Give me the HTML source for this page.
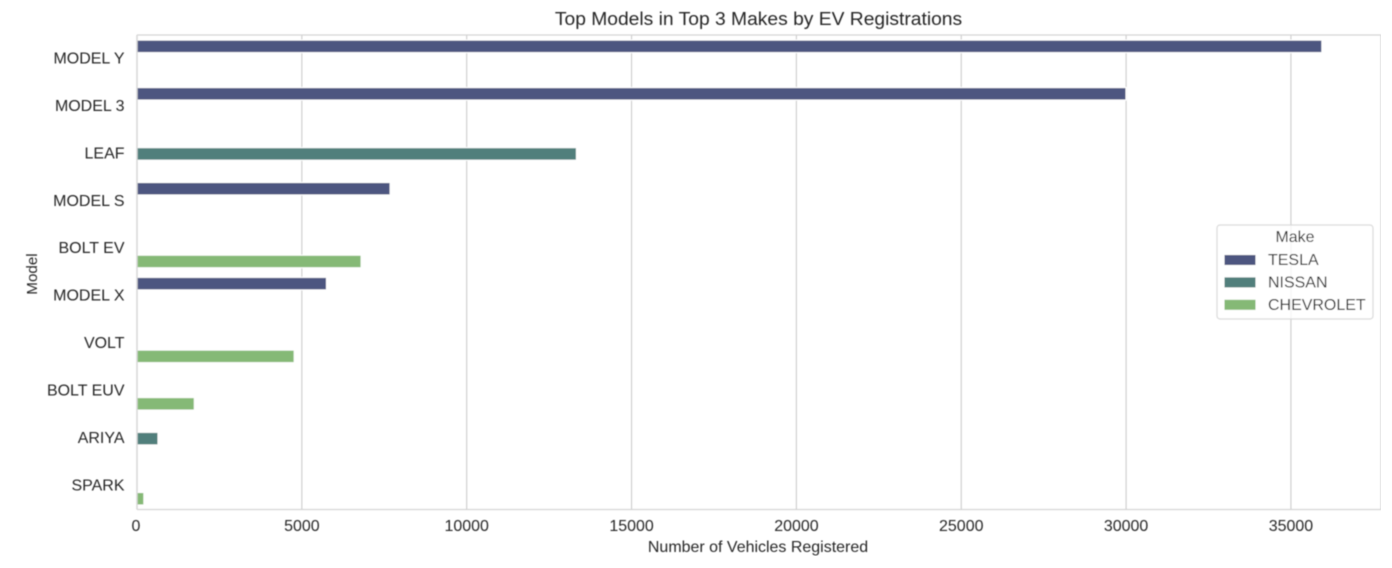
<!DOCTYPE html>
<html>
<head>
<meta charset="utf-8">
<title>Top Models in Top 3 Makes by EV Registrations</title>
<style>
html,body{margin:0;padding:0;background:#fff;}
svg{display:block;}
text{font-family:"Liberation Sans",Arial,sans-serif;fill:#262626;}
</style>
</head>
<body>
<svg id="chart" xmlns="http://www.w3.org/2000/svg" width="1392" height="568" viewBox="0 0 1392 568">
<defs><filter id="soft" x="0" y="0" width="100%" height="100%"><feGaussianBlur stdDeviation="0.45"/></filter></defs>
<g id="root" filter="url(#soft)"></g>
</svg>
<script>
const models = ["MODEL Y","MODEL 3","LEAF","MODEL S","BOLT EV","MODEL X","VOLT","BOLT EUV","ARIYA","SPARK"];
const makes = ["TESLA","NISSAN","CHEVROLET"];
const modelMakes = ["TESLA","TESLA","NISSAN","TESLA","CHEVROLET","TESLA","CHEVROLET","CHEVROLET","NISSAN","CHEVROLET"];
const registrations = [35940,30000,13330,7680,6800,5750,4770,1740,640,210];
const xTicks = [0,5000,10000,15000,20000,25000,30000,35000];
const makeColors = ["#4e5780","#517f7b","#85b976"];

const L=137,R=1381,T=35,B=509.5;
const PX_PER_UNIT=0.03297;
const STRETCH=1.025;
const FONT=15.6;
const NS="http://www.w3.org/2000/svg";
const root=document.getElementById('root');
function x(v){return L+v*PX_PER_UNIT;}
function band(){return (B-T)/models.length;}
function y(i){return T+0.3+band()*(i+0.5);}
function hueOffset(k){return (k-(makes.length-1)/2)*band()*0.8/makes.length;}
function mk(tag,attrs,txt){
  const e=document.createElementNS(NS,tag);
  for(const k in attrs)e.setAttribute(k,attrs[k]);
  if(txt!==undefined)e.textContent=txt;
  root.appendChild(e);
  return e;
}
function hText(px,py,anchor,size,str){
  return mk('text',{transform:'translate('+px+' '+py+') scale('+STRETCH+' 1)','text-anchor':anchor,'font-size':size},str);
}
function label(e,name){
  
  
}
label(mk('rect',{x:L,y:T,width:R-L,height:B-T,fill:'#fff'}),'plot-area');
xTicks.forEach(t=>{
  const g=mk('line',{x1:x(t),x2:x(t),y1:T,y2:B,stroke:'#c9c9c9','stroke-width':1.1});
  label(g,'x-gridline-'+t);
  const a=hText(x(t)-(t===0?1:0),531,'middle',FONT,String(t));
  label(a,'x-tick-label-'+t);
});
models.forEach((m,i)=>{
  const k=makes.indexOf(modelMakes[i]);
  const h=band()*0.8/makes.length;
  const cy=y(i)+hueOffset(k);
  const b=mk('rect',{x:x(0),y:cy-h/2,width:x(registrations[i])-x(0),height:h,fill:makeColors[k],stroke:'#fff','stroke-width':1.2});
  label(b,'bar-'+m.toLowerCase().replace(/ /g,'-'));
  const t=hText(124.5,y(i)+4.4,'end',FONT,m);
  label(t,'y-tick-label-'+m.toLowerCase().replace(/ /g,'-'));
});
[['spine-left',L,T,L,B],['spine-right',R,T,R,B],['spine-top',L,T,R,T],['spine-bottom',L,B,R,B]].forEach(s=>{
  const e=mk('line',{x1:s[1],y1:s[2],x2:s[3],y2:s[4],stroke:'#d4d4d4','stroke-width':1.3});
  label(e,s[0]);
});
label(hText(758.5,25,'middle',18.8,"Top Models in Top 3 Makes by EV Registrations"),'chart-title');
label(hText(758,552,'middle',FONT,"Number of Vehicles Registered"),'x-axis-title');
label(mk('text',{x:37,y:274,'text-anchor':'middle','font-size':15.2,transform:'rotate(-90 37 274)'},"Model"),'y-axis-title');
label(mk('rect',{x:1217,y:225,width:156,height:94,rx:3,fill:'#fff','fill-opacity':0.8,stroke:'#d9d9d9','stroke-width':1.2}),'legend-box');
label(hText(1295,242,'middle',FONT,"Make"),'legend-title');
makes.forEach((m,k)=>{
  const ly=260+k*22.4;
  label(mk('rect',{x:1224.5,y:ly-5,width:31,height:10,fill:makeColors[k]}),'legend-swatch-'+m.toLowerCase());
  label(hText(1268,ly+5.2,'start',FONT,m),'legend-label-'+m.toLowerCase());
});
</script>
</body>
</html>
